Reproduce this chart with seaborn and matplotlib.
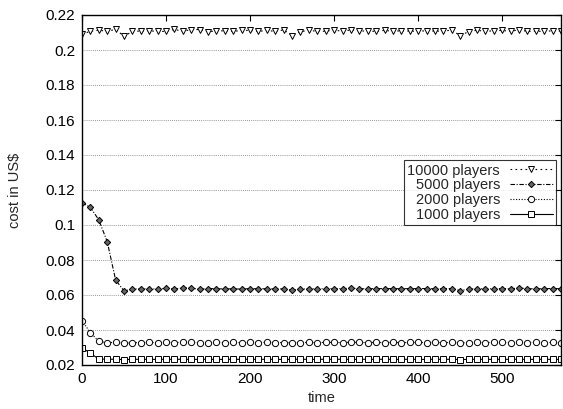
import numpy as np
import pandas as pd
import matplotlib
matplotlib.use("Agg")
import matplotlib.pyplot as plt
import seaborn as sns

# time steps 0..570, every 10
time = list(range(0, 580, 10))

cost_10000 = [0.2090, 0.2107, 0.2113, 0.2107, 0.2118, 0.2078, 0.2107, 0.2108, 0.2110, 0.2106,
              0.2106, 0.2118, 0.2106, 0.2117, 0.2117, 0.2105, 0.2108, 0.2110, 0.2106, 0.2112,
              0.2112, 0.2106, 0.2112, 0.2106, 0.2115, 0.2082, 0.2105, 0.2112, 0.2107, 0.2107,
              0.2115, 0.2106, 0.2115, 0.2110, 0.2107, 0.2107, 0.2112, 0.2107, 0.2110, 0.2108,
              0.2107, 0.2110, 0.2108, 0.2108, 0.2114, 0.2082, 0.2105, 0.2113, 0.2106, 0.2110,
              0.2112, 0.2106, 0.2116, 0.2106, 0.2108, 0.2106, 0.2110, 0.2108]
cost_5000 = [0.1127, 0.1101, 0.1029, 0.0905, 0.0686, 0.0623, 0.0634, 0.0635, 0.0636, 0.0633,
             0.0638, 0.0634, 0.0640, 0.0640, 0.0632, 0.0637, 0.0636, 0.0634, 0.0636, 0.0633,
             0.0637, 0.0635, 0.0636, 0.0634, 0.0635, 0.0627, 0.0633, 0.0636, 0.0635, 0.0636,
             0.0637, 0.0636, 0.0639, 0.0636, 0.0635, 0.0637, 0.0636, 0.0637, 0.0635, 0.0637,
             0.0636, 0.0637, 0.0635, 0.0636, 0.0637, 0.0625, 0.0633, 0.0637, 0.0634, 0.0636,
             0.0637, 0.0635, 0.0640, 0.0636, 0.0635, 0.0636, 0.0637, 0.0636]
cost_2000 = [0.0453, 0.0385, 0.0335, 0.0327, 0.0330, 0.0324, 0.0328, 0.0328, 0.0329, 0.0328,
             0.0330, 0.0328, 0.0330, 0.0329, 0.0327, 0.0328, 0.0329, 0.0328, 0.0329, 0.0328,
             0.0329, 0.0328, 0.0330, 0.0328, 0.0328, 0.0327, 0.0328, 0.0329, 0.0328, 0.0329,
             0.0329, 0.0328, 0.0330, 0.0329, 0.0328, 0.0329, 0.0328, 0.0329, 0.0328, 0.0329,
             0.0329, 0.0328, 0.0329, 0.0328, 0.0329, 0.0326, 0.0328, 0.0329, 0.0328, 0.0329,
             0.0329, 0.0328, 0.0330, 0.0328, 0.0329, 0.0328, 0.0329, 0.0328]
cost_1000 = [0.0299, 0.0267, 0.0234, 0.0233, 0.0233, 0.0231, 0.0232, 0.0233, 0.0232, 0.0232,
             0.0233, 0.0232, 0.0233, 0.0232, 0.0232, 0.0233, 0.0232, 0.0232, 0.0233, 0.0232,
             0.0233, 0.0232, 0.0233, 0.0232, 0.0232, 0.0232, 0.0233, 0.0232, 0.0232, 0.0233,
             0.0232, 0.0233, 0.0232, 0.0232, 0.0233, 0.0232, 0.0233, 0.0232, 0.0232, 0.0233,
             0.0232, 0.0232, 0.0233, 0.0232, 0.0233, 0.0231, 0.0232, 0.0233, 0.0232, 0.0232,
             0.0233, 0.0232, 0.0233, 0.0232, 0.0232, 0.0233, 0.0232, 0.0232]

labels = ["10000 players", "5000 players", "2000 players", "1000 players"]
x_ticks = [0, 100, 200, 300, 400, 500]
y_ticks = [0.02, 0.04, 0.06, 0.08, 0.1, 0.12, 0.14, 0.16, 0.18, 0.2, 0.22]
y_ticklabels = ["0.02", "0.04", "0.06", "0.08", "0.1", "0.12", "0.14", "0.16", "0.18", "0.2", "0.22"]

sns.set_style("white")
plt.rcParams["font.family"] = ["Liberation Sans", "DejaVu Sans"]
plt.rcParams["font.size"] = 10.5

fig = plt.figure(figsize=(5.63, 4.09), dpi=100)
ax = fig.add_axes([82 / 563, 1 - 365 / 409, (561 - 82) / 563, 350 / 409])

# gnuplot-ish styles per series
styles = [
    dict(linestyle=(0, (1.5, 3)), marker="v", markerfacecolor="white", markersize=4.5),
    dict(linestyle=(0, (4, 1.5, 1, 1.5)), marker="D", markerfacecolor="#666666", markersize=3.2),
    dict(linestyle=(0, (1, 1.5)), marker="o", markerfacecolor="white", markersize=4.5),
    dict(linestyle="-", marker="s", markerfacecolor="white", markersize=4),
]
series = [cost_10000, cost_5000, cost_2000, cost_1000]

for vals, lab, st in zip(series, labels, styles):
    sns.lineplot(x=time, y=vals, ax=ax, label=lab, color="black", linewidth=0.8,
                 markeredgecolor="black", markeredgewidth=0.7, **st)

ax.set_xlim(0, 570)
ax.set_ylim(0.02, 0.22)
ax.set_xticks(x_ticks)
ax.set_yticks(y_ticks)
ax.set_yticklabels(y_ticklabels)
ax.set_xlabel("time", fontsize=10.5, labelpad=4)
ax.set_ylabel("cost in US$", fontsize=10.5, labelpad=17)
ax.tick_params(direction="in", top=True, right=True, length=4, width=0.8,
               labelsize=11, pad=5, colors="black")
ax.yaxis.grid(True, linestyle=(0, (1, 1.5)), color="#777777", linewidth=0.6)
ax.xaxis.grid(False)
for sp in ax.spines.values():
    sp.set_color("black")
    sp.set_linewidth(1.0)

leg = ax.legend(loc="upper right", bbox_to_anchor=(0.99, 0.586), borderaxespad=0,
                markerfirst=False, handlelength=2.9, labelspacing=0.05, fontsize=10.5,
                frameon=True, fancybox=False, edgecolor="black", borderpad=0.25,
                handletextpad=0.7)
leg.get_frame().set_linewidth(0.8)

fig.savefig("out.png", dpi=100)
